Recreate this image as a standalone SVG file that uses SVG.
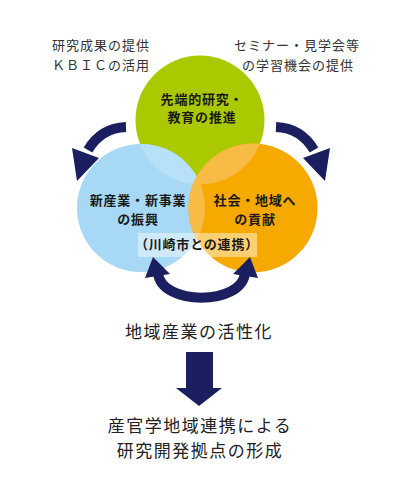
<svg xmlns="http://www.w3.org/2000/svg" width="400" height="500" viewBox="0 0 400 500">
<style>
text{font-family:"Noto Sans CJK JP","Noto Sans",sans-serif;text-anchor:middle}
.note{font-size:13px;letter-spacing:1px;fill:#333}
.lbl{font-size:13px;font-weight:bold;letter-spacing:0.8px;fill:#1a1a1a}
.big{font-size:17px;letter-spacing:1.5px;fill:#222}
.nav{fill:#1b1f5f}
.band{fill:none;stroke:#1b1f5f;stroke-width:10}
</style>
<defs>
<clipPath id="cpBlue"><circle cx="141" cy="208" r="64"/></clipPath>
<clipPath id="cpOrange"><circle cx="253" cy="208" r="64.5"/></clipPath>
</defs>
<rect width="400" height="500" fill="#fff"/>
<g id="notes">
<text class="note" x="101" y="50">研究成果の提供</text>
<text class="note" x="101" y="70">ＫＢＩＣの活用</text>
<text class="note" x="297" y="50">セミナー・見学会等</text>
<text class="note" x="298" y="70">の学習機会の提供</text>
</g>
<g id="node-green">
<circle cx="200" cy="120" r="64.5" fill="#abc900"/>
</g>
<g id="node-blue">
<circle cx="141" cy="208" r="64" fill="#a7d8f5"/>
<circle cx="200" cy="120" r="64.5" fill="#b7e1f8" clip-path="url(#cpBlue)"/>
</g>
<g id="node-orange">
<circle cx="253" cy="208" r="64.5" fill="#f6a900"/>
<g clip-path="url(#cpOrange)" fill="#f8bb44">
<circle cx="141" cy="208" r="64"/>
<circle cx="200" cy="120" r="64.5"/>
</g>
</g>
<g id="labels">
<text class="lbl" x="202" y="104">先端的研究・</text>
<text class="lbl" x="202" y="122">教育の推進</text>
<text class="lbl" x="138" y="205">新産業・新事業</text>
<text class="lbl" x="138" y="224">の振興</text>
<text class="lbl" x="255" y="205">社会・地域へ</text>
<text class="lbl" x="255" y="224">の貢献</text>
</g>
<g id="node-kawasaki">
<rect x="138" y="233" width="119" height="24" fill="#fff" fill-opacity="0.45"/>
<text class="lbl" x="197" y="249">（川崎市との連携）</text>
</g>
<g id="connectors">
<g id="arrow-left">
<path class="band" d="M126,127 Q101,128 88,150"/>
<polygon class="nav" points="72,148 99,158 77,181"/>
</g>
<g id="arrow-right" transform="translate(402,0) scale(-1,1)">
<path class="band" d="M126,127 Q101,128 88,150"/>
<polygon class="nav" points="72,148 99,158 77,181"/>
</g>
<g id="arrow-bottom">
<path class="band" d="M158,273 C161,306 242,306 245,273"/>
<polygon class="nav" points="153,257 145,278 170,274"/>
<polygon class="nav" points="250,257 258,278 233,274"/>
</g>
<polygon id="arrow-down" class="nav" points="186,352 213,352 213,388 222,388 199,406 176,388 186,388"/>
</g>
<g id="results">
<text class="big" x="199" y="338">地域産業の活性化</text>
<text class="big" x="200" y="432">産官学地域連携による</text>
<text class="big" x="200" y="457">研究開発拠点の形成</text>
</g>
</svg>
